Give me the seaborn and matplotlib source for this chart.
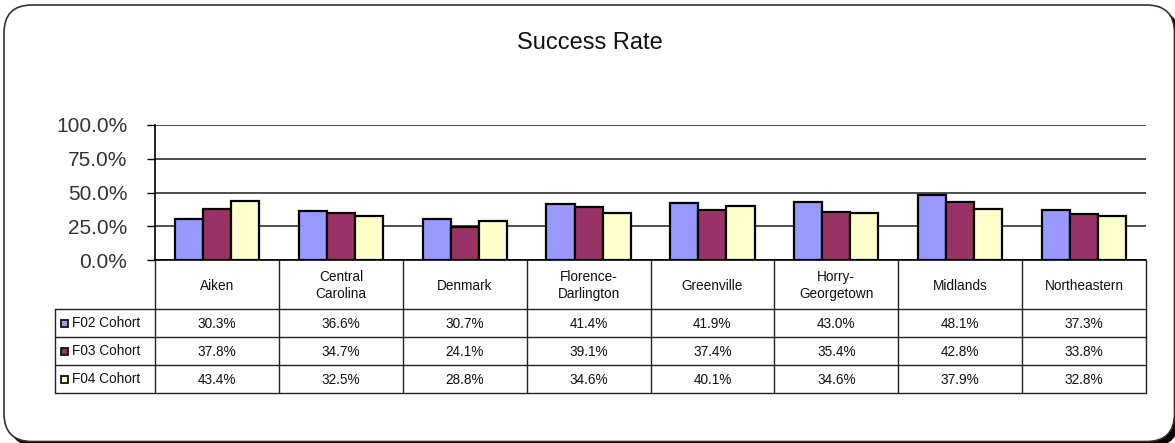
import matplotlib
matplotlib.use("Agg")
import matplotlib.pyplot as plt
from matplotlib.patches import FancyBboxPatch, Rectangle
from matplotlib.transforms import IdentityTransform
import seaborn as sns
import pandas as pd

# ---- data ----
categories = ["Aiken", "Central\nCarolina", "Denmark", "Florence-\nDarlington",
              "Greenville", "Horry-\nGeorgetown", "Midlands", "Northeastern"]
series_names = ["F02 Cohort", "F03 Cohort", "F04 Cohort"]
f02 = [30.3, 36.6, 30.7, 41.4, 41.9, 43.0, 48.1, 37.3]
f03 = [37.8, 34.7, 24.1, 39.1, 37.4, 35.4, 42.8, 33.8]
f04 = [43.4, 32.5, 28.8, 34.6, 40.1, 34.6, 37.9, 32.8]
y_ticks = [0, 25, 50, 75, 100]
colors = ["#9999FF", "#993366", "#FFFFCC"]

series_values = [f02, f03, f04]
rows = []
for name, vals in zip(series_names, series_values):
    for c, v in zip(categories, vals):
        rows.append({"college": c, "rate": v, "cohort": name})
df = pd.DataFrame(rows)

W, H = 1175, 443
sns.set_theme(style="white")
plt.rcParams["font.family"] = ["Liberation Sans", "DejaVu Sans"]

fig = plt.figure(figsize=(W / 100, H / 100), dpi=100)

# outer rounded frame with shadow (pixel coordinates, origin bottom-left)
def px_box(left, top, right, bottom, **kw):
    return FancyBboxPatch((left, H - bottom), right - left, bottom - top,
                          boxstyle="round,pad=0,rounding_size=28",
                          transform=IdentityTransform(), **kw)

shadow = px_box(9, 10, 1179, 446, facecolor="black", edgecolor="black", lw=1, zorder=-3)
frame = px_box(4, 5, 1174.5, 441.5, facecolor="white", edgecolor="#333333", lw=1.2, zorder=-2)
fig.patches.extend([shadow, frame])

x0, x1 = 155, 1146
y_top, y_base = 125, 260
ax = fig.add_axes([x0 / W, 1 - y_base / H, (x1 - x0) / W, (y_base - y_top) / H])
ax.patch.set_alpha(0)

sns.barplot(data=df, x="college", y="rate", hue="cohort", palette=colors,
            width=0.68, edgecolor="black", linewidth=1.6, saturation=1,
            legend=False, ax=ax, zorder=3)

ax.set_ylim(0, 100)
ax.set_xlim(-0.5, len(categories) - 0.5)
ax.set_yticks(y_ticks)
ax.set_yticklabels([f"{t:.1f}%" for t in y_ticks], fontsize=15, color="#333333")
ax.tick_params(axis="y", direction="out", length=6, width=1, color="black",
               pad=14, left=True)
ax.set_xticks([])
ax.set_xlabel("")
ax.set_ylabel("")
ax.yaxis.grid(True, color="#404040", lw=1.3)
ax.set_axisbelow(True)
for s in ["top", "right"]:
    ax.spines[s].set_visible(False)
ax.spines["left"].set_color("black")
ax.spines["left"].set_linewidth(1.2)
ax.spines["bottom"].set_color("black")
ax.spines["bottom"].set_linewidth(1.2)

fig.text(590 / W, 1 - 43 / H, "Success Rate", fontsize=17, ha="center",
         va="center", color="#111111", fontweight="medium")

# ---- data table ----
t_bottom = 393
tab = fig.add_axes([x0 / W, 1 - t_bottom / H, (x1 - x0) / W, (t_bottom - y_base) / H])
tab.set_xlim(-0.5, len(categories) - 0.5)
tab.set_ylim(t_bottom - y_base, 0)
tab.axis("off")
col_w = (x1 - x0) / len(categories)
x_left = -0.5 - (x0 - 55) / col_w
hdr = 49
row_h = 28
lc = "#222222"
lw = 1.0
n = len(categories)
fs = 9.8
# vertical lines
for i in range(n + 1):
    tab.plot([i - 0.5, i - 0.5], [0, hdr + 3 * row_h], color=lc, lw=lw,
             clip_on=False, solid_capstyle="butt")
tab.plot([x_left, x_left], [hdr, hdr + 3 * row_h], color=lc, lw=lw, clip_on=False)
# horizontal lines
for r in range(4):
    y = hdr + r * row_h
    tab.plot([x_left, n - 0.5], [y, y], color=lc, lw=lw, clip_on=False)

for i, c in enumerate(categories):
    tab.text(i, hdr / 2 + 1, c, ha="center", va="center", fontsize=fs,
             color="#111111", linespacing=1.25)
for r, (name, vals) in enumerate(zip(series_names, series_values)):
    yc = hdr + r * row_h + row_h / 2
    for i, v in enumerate(vals):
        tab.text(i, yc + 1, f"{v:.1f}%", ha="center", va="center", fontsize=fs,
                 color="#111111")
    # legend key
    kx = x_left + 6 / col_w
    tab.add_patch(Rectangle((kx, yc - 3.5), 7 / col_w, 7, facecolor=colors[r],
                            edgecolor="#111111", lw=1.3, clip_on=False))
    tab.text(x_left + 17 / col_w, yc, name, ha="left", va="center",
             fontsize=fs, color="#111111")

fig.savefig("out.png", dpi=100)
